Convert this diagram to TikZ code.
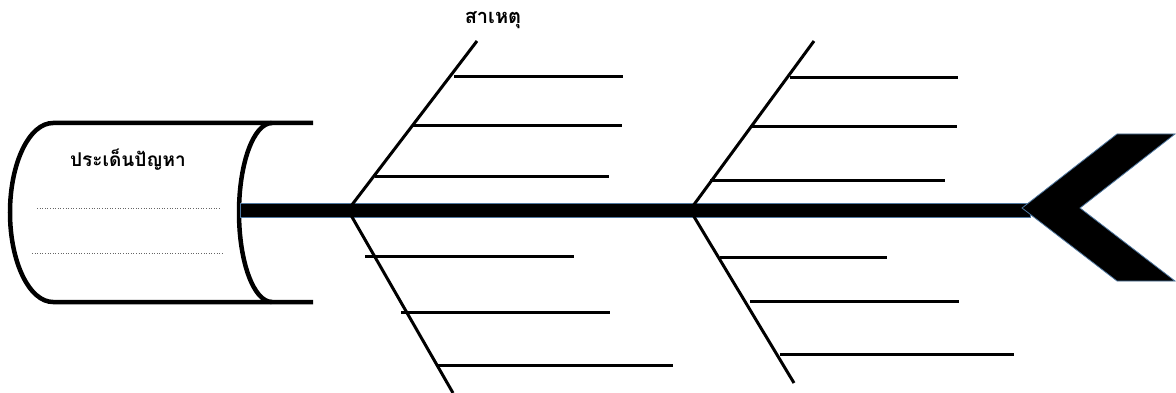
\documentclass[tikz,border=0pt]{standalone}
\usepackage{fontspec}
\usepackage{tikz}
\newfontfamily\thaifont[Script=Thai]{Loma}
\definecolor{rim}{RGB}{80,120,160}

\begin{document}
\begin{tikzpicture}[x=1pt,y=-1pt,line cap=butt]
\useasboundingbox (0,0) rectangle (1176,393);
% หัวปลา (กล่องปัญหา)
\draw[line width=4.5pt] (313,123) -- (53,123) arc[start angle=270,end angle=90,x radius=43,y radius=89.5] -- (313,302);
\draw[line width=4.5pt] (272,123) arc[start angle=270,end angle=90,x radius=33,y radius=89.5];
\node[font=\thaifont\bfseries\fontsize{19}{21}\selectfont] (issue) at (128,160) {ประเด็นปัญหา};
\draw[dotted,line width=0.6pt,gray!80!black] (37,208) -- (220,208);
\draw[dotted,line width=0.6pt,gray!80!black] (32,253) -- (224,253);
% กระดูกสันหลัง
\draw[fill=black,draw=rim,line width=0.8pt] (240,203) rectangle (1030,217);
\draw[fill=black,draw=rim,line width=0.8pt] (1022,208) -- (1117,134) -- (1175,134) -- (1080,208) -- (1175,281) -- (1117,281) -- cycle;
% ก้างบน-ล่าง
\coordinate (j1) at (348,210);
\coordinate (j2) at (690,210);
\draw[line width=3pt] (j1) -- (477,41);
\draw[line width=3pt] (j1) -- (453,393);
\draw[line width=3pt] (j2) -- (814,41);
\draw[line width=3pt] (j2) -- (794,383);
\node[font=\thaifont\bfseries\fontsize{20}{22}\selectfont] (cause) at (493,20) {สาเหตุ};
% ก้างย่อย
\draw[line width=3pt] (454,77) -- (623,77);
\draw[line width=3pt] (413,126) -- (622,126);
\draw[line width=3pt] (375,177) -- (609,177);
\draw[line width=3pt] (365,256) -- (574,256);
\draw[line width=3pt] (401,312) -- (610,312);
\draw[line width=3pt] (438,365) -- (673,365);
\draw[line width=3pt] (790,78) -- (958,78);
\draw[line width=3pt] (750,127) -- (957,127);
\draw[line width=3pt] (710,181) -- (945,181);
\draw[line width=3pt] (720,257) -- (887,257);
\draw[line width=3pt] (750,301) -- (959,301);
\draw[line width=3pt] (780,354) -- (1014,354);
\end{tikzpicture}
\end{document}
